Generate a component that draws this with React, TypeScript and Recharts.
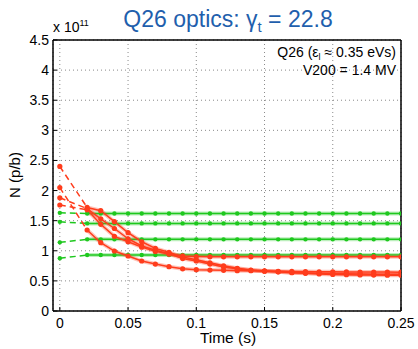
import { LineChart, Line, XAxis, YAxis, CartesianGrid } from "recharts";

const FONT = "'Liberation Sans', Arial, Helvetica, sans-serif";

// time after injection (s), markers every 10 ms
const TIME = [
  0.02, 0.03, 0.04, 0.05, 0.06, 0.07, 0.08, 0.09, 0.1, 0.11, 0.12, 0.13,
  0.14, 0.15, 0.16, 0.17, 0.18, 0.19, 0.2, 0.21, 0.22, 0.23, 0.24, 0.25,
];
const X_TICKS = [0, 0.05, 0.1, 0.15, 0.2, 0.25];
const Y_TICKS = [0, 0.5, 1, 1.5, 2, 2.5, 3, 3.5, 4, 4.5];

// intensities in units of 1e11 p/b
const GREEN_START = [1.63, 1.48, 1.14, 0.875];
const RED_START = [2.4, 1.88, 1.76, 2.05];

const GREEN_1 = [
  1.62, 1.62, 1.62, 1.62, 1.62, 1.62, 1.62, 1.62, 1.62, 1.62, 1.62, 1.62,
  1.62, 1.62, 1.62, 1.62, 1.62, 1.62, 1.62, 1.62, 1.62, 1.62, 1.62, 1.62,
];
const GREEN_2 = [
  1.455, 1.455, 1.455, 1.455, 1.455, 1.455, 1.455, 1.455, 1.455, 1.455, 1.455, 1.455,
  1.455, 1.455, 1.455, 1.455, 1.455, 1.455, 1.455, 1.455, 1.455, 1.455, 1.455, 1.455,
];
const GREEN_3 = [
  1.19, 1.19, 1.19, 1.19, 1.19, 1.19, 1.19, 1.19, 1.19, 1.19, 1.19, 1.19,
  1.19, 1.19, 1.19, 1.19, 1.19, 1.19, 1.19, 1.19, 1.19, 1.19, 1.19, 1.19,
];
const GREEN_4 = [
  0.93, 0.93, 0.93, 0.93, 0.93, 0.93, 0.93, 0.93, 0.93, 0.93, 0.93, 0.93,
  0.93, 0.93, 0.93, 0.93, 0.93, 0.93, 0.93, 0.93, 0.93, 0.93, 0.93, 0.93,
];

const RED_1 = [
  1.72, 1.666, 1.483, 1.3, 1.15, 1.04, 0.975, 0.895, 0.85, 0.8, 0.75, 0.71,
  0.68, 0.665, 0.65, 0.635, 0.625, 0.615, 0.607, 0.602, 0.598, 0.596, 0.595, 0.594,
];
const RED_2 = [
  1.7, 1.53, 1.37, 1.2, 1.08, 1.01, 0.95, 0.87, 0.83, 0.78, 0.73, 0.7,
  0.675, 0.66, 0.65, 0.64, 0.632, 0.626, 0.621, 0.617, 0.614, 0.612, 0.611, 0.61,
];
const RED_3 = [
  1.68, 1.44, 1.24, 1.15, 1.06, 0.99, 0.945, 0.915, 0.905, 0.9, 0.9, 0.9,
  0.9, 0.9, 0.9, 0.9, 0.9, 0.9, 0.9, 0.9, 0.9, 0.9, 0.9, 0.9,
];
const RED_4 = [
  1.345, 1.134, 0.996, 0.913, 0.83, 0.78, 0.736, 0.7, 0.686, 0.68, 0.675, 0.67,
  0.668, 0.664, 0.66, 0.657, 0.654, 0.652, 0.65, 0.649, 0.648, 0.647, 0.646, 0.645,
];

const GREEN = [GREEN_1, GREEN_2, GREEN_3, GREEN_4];
const RED = [RED_1, RED_2, RED_3, RED_4];

const data = [0, ...TIME].map((t, i) => {
  const row: Record<string, number | undefined> = { t };
  GREEN.forEach((s, k) => {
    row[`g${k}`] = i === 0 ? undefined : s[i - 1];
    row[`gd${k}`] = i === 0 ? GREEN_START[k] : i === 1 ? s[0] : undefined;
  });
  RED.forEach((s, k) => {
    row[`r${k}`] = i === 0 ? undefined : s[i - 1];
    row[`rd${k}`] = i === 0 ? RED_START[k] : i === 1 ? s[0] : undefined;
  });
  return row;
});

const GREEN_C = "#1ec81e";
const RED_C = "#ff3c1c";

function firstDot(color: string, r: number) {
  return (p: any) =>
    p.index === 0 ? (
      <circle key={`d${p.index}`} cx={p.cx} cy={p.cy} r={r} fill={color} stroke="none" />
    ) : (
      <g key={`d${p.index}`} />
    );
}

function series(prefix: string, color: string, halo: string, r: number) {
  return [0, 1, 2, 3].flatMap((k) => [
    <Line
      key={`${prefix}d${k}`}
      dataKey={`${prefix}d${k}`}
      stroke={color}
      strokeWidth={1.5}
      strokeDasharray="6 4"
      dot={firstDot(color, r)}
      activeDot={false}
      isAnimationActive={false}
    />,
    <Line
      key={`${prefix}h${k}`}
      dataKey={`${prefix}${k}`}
      stroke={halo}
      strokeWidth={4}
      dot={false}
      activeDot={false}
      isAnimationActive={false}
    />,
    <Line
      key={`${prefix}${k}`}
      dataKey={`${prefix}${k}`}
      stroke={color}
      strokeWidth={1.5}
      dot={{ r, fill: color, stroke: "none" }}
      activeDot={false}
      isAnimationActive={false}
    />,
  ]);
}

export default function App() {
  const tickStyle = { fill: "#000", fontSize: 14, fontFamily: FONT };
  const axisLine = { stroke: "#000", strokeWidth: 1.5 };
  return (
    <div style={{ position: "absolute", left: 0, top: 0, width: 418, height: 349, background: "#fff" }}>
      <LineChart width={418} height={349} data={data} margin={{ top: 39, right: 16, bottom: 0, left: 0 }}>
        <CartesianGrid stroke="#8a8a8a" strokeDasharray="1 3" />
        <XAxis
          dataKey="t"
          type="number"
          domain={[-0.005, 0.25]}
          ticks={X_TICKS}
          allowDataOverflow
          height={38}
          tickSize={-4}
          tickMargin={11}
          axisLine={axisLine}
          tickLine={{ stroke: "#000" }}
          tick={tickStyle}
        />
        <XAxis
          xAxisId="top"
          orientation="top"
          dataKey="t"
          type="number"
          domain={[-0.005, 0.25]}
          ticks={X_TICKS}
          allowDataOverflow
          height={1}
          tickSize={-4}
          axisLine={axisLine}
          tickLine={{ stroke: "#000" }}
          tick={false}
        />
        <YAxis
          type="number"
          domain={[0, 4.5]}
          ticks={Y_TICKS}
          width={53}
          tickSize={-4}
          tickMargin={8}
          axisLine={axisLine}
          tickLine={{ stroke: "#000" }}
          tick={tickStyle}
        />
        <YAxis
          yAxisId="right"
          orientation="right"
          type="number"
          domain={[0, 4.5]}
          ticks={Y_TICKS}
          width={1}
          tickSize={-4}
          axisLine={axisLine}
          tickLine={{ stroke: "#000" }}
          tick={false}
        />
        {series("g", GREEN_C, "rgba(30,200,30,0.3)", 2.2)}
        {series("r", RED_C, "rgba(255,60,28,0.3)", 2.6)}
      </LineChart>
      <svg
        width={418}
        height={349}
        style={{ position: "absolute", left: 0, top: 0, pointerEvents: "none" }}
        fontFamily={FONT}
      >
        <text x={228} y={27} textAnchor="middle" fontSize={23} fill="#1f5fad">
          Q26 optics: γ<tspan dy={5} fontSize={15}>t</tspan>
          <tspan dy={-5}> = 22.8</tspan>
        </text>
        <text x={53} y={32} fontSize={14} fill="#000">
          x 10<tspan dy={-6} fontSize={9}>11</tspan>
        </text>
        <text x={396} y={57} textAnchor="end" fontSize={14} fill="#000">
          Q26 (ε<tspan dy={3} fontSize={9}>l</tspan>
          <tspan dy={-3}> ≈ 0.35 eVs)</tspan>
        </text>
        <text x={396} y={75} textAnchor="end" fontSize={14} fill="#000">
          V200 = 1.4 MV
        </text>
        <text x={20} y={175} textAnchor="middle" fontSize={15} fill="#000" transform="rotate(-90 20 175)">
          N (p/b)
        </text>
        <text x={228} y={343} textAnchor="middle" fontSize={15.5} fill="#000">
          Time (s)
        </text>
      </svg>
    </div>
  );
}
